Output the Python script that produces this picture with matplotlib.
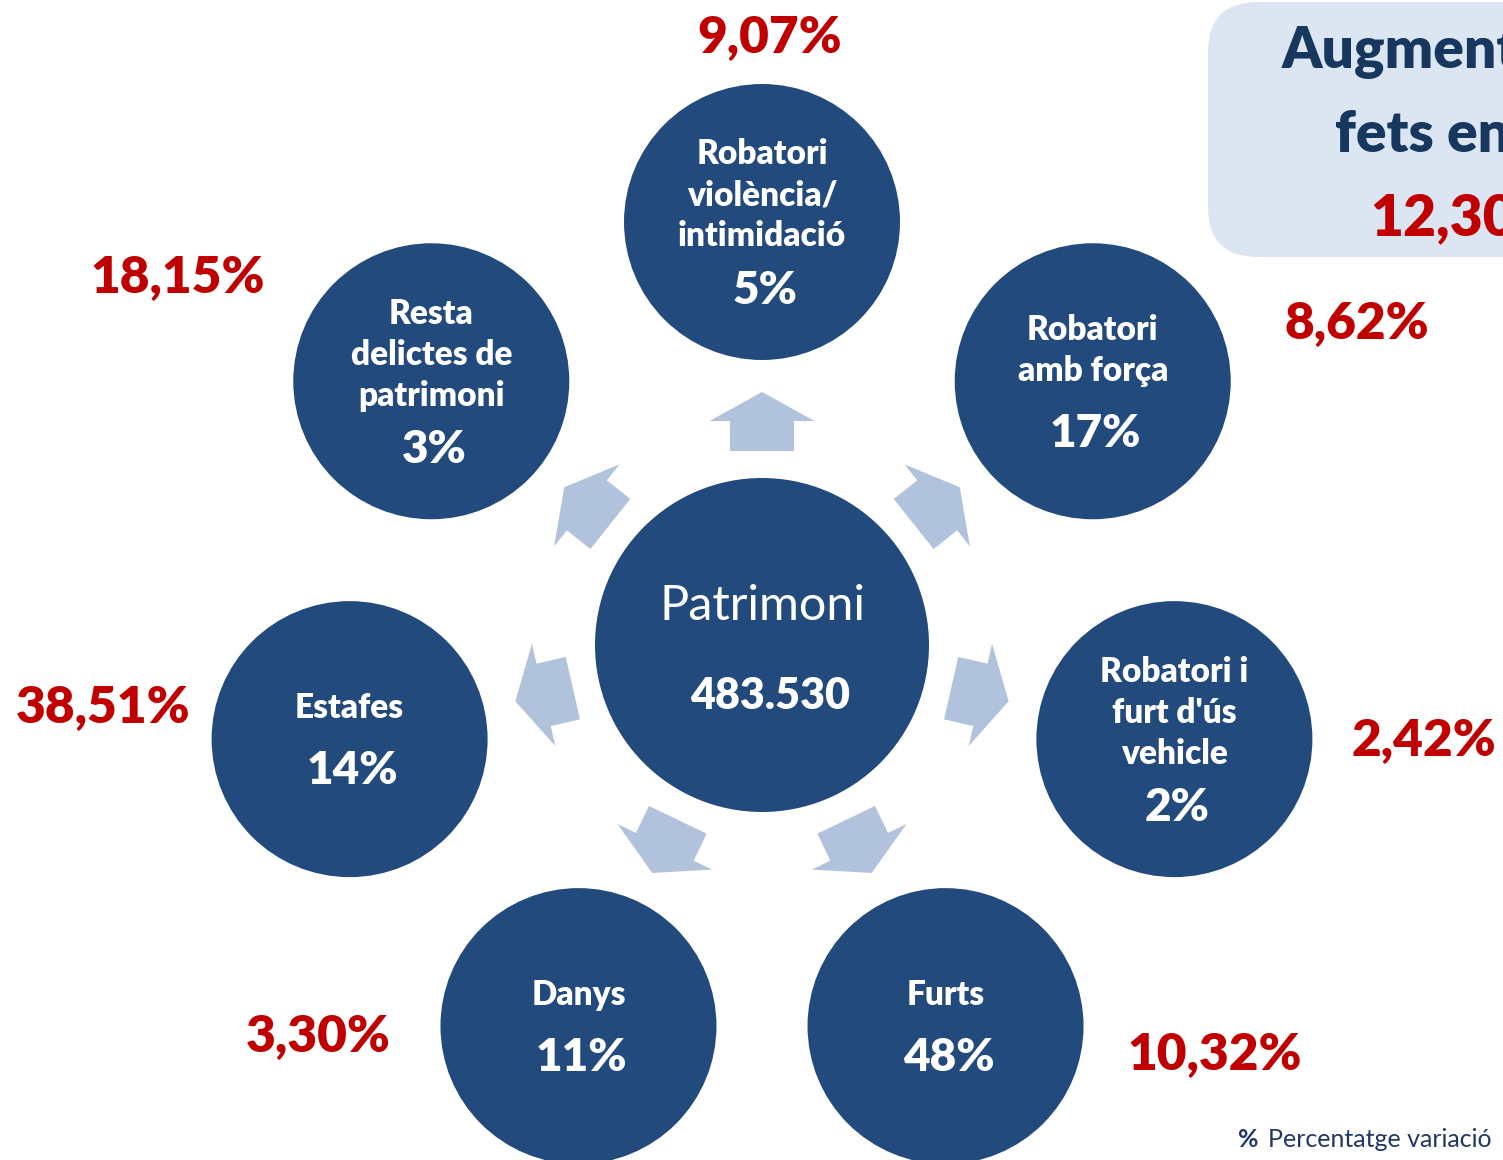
import numpy as np
import matplotlib.pyplot as plt
from matplotlib.patches import Circle, Polygon, FancyBboxPatch

plt.rcParams['font.family'] = ['Lato', 'DejaVu Sans']

# Data
total_label = "Patrimoni"
total_value = "483.530"
categories = [
    ["Robatori", "violència/", "intimidació"],
    ["Robatori", "amb força"],
    ["Robatori i", "furt d'ús", "vehicle"],
    ["Furts"],
    ["Danys"],
    ["Estafes"],
    ["Resta", "delictes de", "patrimoni"],
]
shares = ["5%", "17%", "2%", "48%", "11%", "14%", "3%"]
variations = ["9,07%", "8,62%", "2,42%", "10,32%", "3,30%", "38,51%", "18,15%"]
box_lines = ["Augment dels", "fets en un", "12,30%"]

# Layout (pixel coords, y down)
cx, cy = 762, 645
r_center = 167
r_orbit = 423
r_node = 138
# offset of red variation label from its node centre (baseline)
var_offsets = [(8, -170), (264, -43), (249, 16), (269, 43),
               (-260, 25), (-247, -17), (-254, -89)]

dark = '#224A7C'
light = '#B1C2DD'
red = '#C00000'
navy = '#17375E'
heavy = 'heavy'

fig = plt.figure(figsize=(15.03, 11.6), dpi=100)
ax = fig.add_axes([0, 0, 1, 1])
ax.set_xlim(0, 1503)
ax.set_ylim(1160, 0)
ax.axis('off')

# top-right box
box = FancyBboxPatch((1208, 2), 400, 255, boxstyle="round,pad=0,rounding_size=50",
                     fc='#DCE6F2', ec='none')
ax.add_patch(box)
ax.text(1282, 68, box_lines[0], color=navy, fontsize=41, fontweight=heavy, va='baseline')
ax.text(1335, 152, box_lines[1], color=navy, fontsize=41, fontweight=heavy, va='baseline')
ax.text(1370, 235, box_lines[2], color=red, fontsize=41, fontweight=heavy, va='baseline')

# centre node
ax.add_patch(Circle((cx, cy), r_center, fc=dark, ec='none'))
ax.text(763, 620, total_label, color='white', fontsize=35, ha='center', va='baseline')
ax.text(770, 709, total_value, color='white', fontsize=31, fontweight=heavy,
        ha='center', va='baseline')

# arrow shape in local coords (radial, tangential)
arrow_local = np.array([[194, -32], [224, -32], [224, -52.5], [253, 0],
                        [224, 52.5], [224, 32], [194, 32]])

n = len(categories)
for i in range(n):
    th = np.deg2rad(i * 360.0 / n)
    d = np.array([np.sin(th), -np.cos(th)])
    p = np.array([np.cos(th), np.sin(th)])
    pts = np.array([[cx, cy] + a * d + b * p for a, b in arrow_local])
    ax.add_patch(Polygon(pts, closed=True, fc=light, ec='none'))

    nx, ny = cx + r_orbit * d[0], cy + r_orbit * d[1]
    ax.add_patch(Circle((nx, ny), r_node, fc=dark, ec='none'))

    lines = categories[i]
    k = len(lines)
    gap = 57 if k == 3 else 66
    span = 41 * (k - 1) + gap
    first = ny - span / 2 + 12
    for j, ln in enumerate(lines):
        ax.text(nx, first + 41 * j, ln, color='white', fontsize=24,
                fontweight=heavy, ha='center', va='baseline')
    ax.text(nx + 3, first + 41 * (k - 1) + gap, shares[i], color='white',
            fontsize=33, fontweight=heavy, ha='center', va='baseline')

    ox, oy = var_offsets[i]
    ax.text(nx + ox, ny + oy, variations[i], color=red, fontsize=37,
            fontweight=heavy, ha='center', va='baseline')

# footer
ax.text(1238, 1147, "%", color='#1F3864', fontsize=18, fontweight='bold', va='baseline')
ax.text(1268, 1147, "Percentatge variació", color='#1F3864', fontsize=18, va='baseline')

fig.savefig('out.png', dpi=100)
